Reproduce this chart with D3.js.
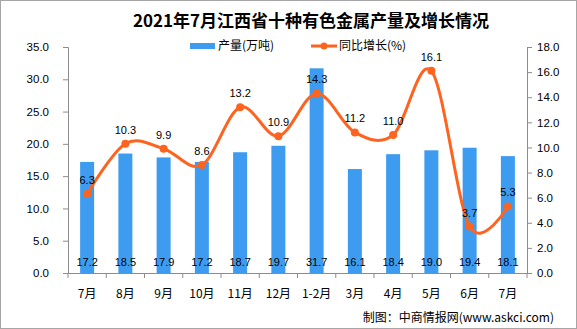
<!DOCTYPE html>
<html>
<head>
<meta charset="utf-8">
<script src="https://cdn.jsdelivr.net/npm/d3@7"></script>
<style>
  body { margin: 0; background: #fff; }
  svg { display: block; }
  text { font-family: "Liberation Sans", "Noto Sans CJK SC", sans-serif; }
  .cjk { font-family: "Noto Sans CJK SC", sans-serif; }
</style>
</head>
<body>
<svg id="chart" width="577" height="329"></svg>
<script>
// data
var months = ["7月", "8月", "9月", "10月", "11月", "12月", "1-2月", "3月", "4月", "5月", "6月", "7月"];
var output = [17.2, 18.5, 17.9, 17.2, 18.7, 19.7, 31.7, 16.1, 18.4, 19.0, 19.4, 18.1];
var growth = [6.3, 10.3, 9.9, 8.6, 13.2, 10.9, 14.3, 11.2, 11.0, 16.1, 3.7, 5.3];
var leftTicks = [0, 5, 10, 15, 20, 25, 30, 35];
var rightTicks = [0, 2, 4, 6, 8, 10, 12, 14, 16, 18];

var svg = d3.select("#chart");
var barColor = "#3d9cf0";
var lineColor = "#fc6420";

// plot box (window.top is reserved, so no plain "top")
var plotLeft = 68, plotRight = 527, plotTop = 47, plotBottom = 273;

// outer frame
svg.append("rect")
    .attr("x", 0.5).attr("y", 0.5)
    .attr("width", 576).attr("height", 328)
    .style("fill", "none")
    .style("stroke", "#a6a6a6");

var x = d3.scaleBand().domain(d3.range(months.length)).range([plotLeft, plotRight]).paddingInner(0).paddingOuter(0);
var yL = d3.scaleLinear().domain([0, 35]).range([plotBottom, plotTop]);
var yR = d3.scaleLinear().domain([0, 18]).range([plotBottom, plotTop]);
var barW = 14;

// bars
svg.append("g").selectAll("rect")
    .data(output)
    .enter().append("rect")
    .attr("x", function(d, i){ return x(i) + x.bandwidth()/2 - barW/2; })
    .attr("y", function(d){ return yL(d); })
    .attr("width", barW)
    .attr("height", function(d){ return plotBottom - yL(d); })
    .style("fill", barColor);

// bar value labels near the base
svg.append("g").selectAll("text")
    .data(output)
    .enter().append("text")
    .attr("x", function(d, i){ return x(i) + x.bandwidth()/2; })
    .attr("y", plotBottom - 7)
    .attr("text-anchor", "middle")
    .style("font-size", "11px")
    .style("fill", "#000")
    .text(function(d){ return d.toFixed(1); });

// axes
var axisL = d3.axisLeft(yL).tickValues(leftTicks).tickSize(5).tickPadding(14)
    .tickFormat(function(d){ return d.toFixed(1); });
var axisR = d3.axisRight(yR).tickValues(rightTicks).tickSize(5).tickPadding(5)
    .tickFormat(function(d){ return d.toFixed(1); });
var axisB = d3.axisBottom(x).tickSize(0).tickPadding(16)
    .tickFormat(function(i){ return months[i]; });

function styleAxis(g){
    g.select(".domain").style("stroke", "#8c8c8c");
    g.selectAll(".tick line").style("stroke", "#8c8c8c");
    g.selectAll(".tick text").style("font-size", "11.5px").style("fill", "#000");
}

svg.append("g").attr("transform", "translate(" + plotLeft + ",0)").call(axisL).call(styleAxis);
svg.append("g").attr("transform", "translate(" + plotRight + ",0)").call(axisR).call(styleAxis);
var gB = svg.append("g").attr("transform", "translate(0," + plotBottom + ")").call(axisB).call(styleAxis);
gB.select(".domain").attr("d", "M" + plotLeft + ",0.5H" + plotRight);
gB.selectAll(".tick text").attr("class", "cjk").style("font-size", "12px");

// category boundary ticks below the axis
svg.append("g").selectAll("line")
    .data(d3.range(months.length + 1))
    .enter().append("line")
    .attr("x1", function(i){ return plotLeft + i * x.bandwidth(); })
    .attr("x2", function(i){ return plotLeft + i * x.bandwidth(); })
    .attr("y1", plotBottom)
    .attr("y2", plotBottom + 5)
    .style("stroke", "#8c8c8c");

// growth line
var line = d3.line()
    .x(function(d, i){ return x(i) + x.bandwidth()/2; })
    .y(function(d){ return yR(d); })
    .curve(d3.curveCardinal.tension(0));

svg.append("path")
    .datum(growth)
    .attr("d", line)
    .style("fill", "none")
    .style("stroke", lineColor)
    .style("stroke-width", 3);

svg.append("g").selectAll("circle")
    .data(growth)
    .enter().append("circle")
    .attr("cx", function(d, i){ return x(i) + x.bandwidth()/2; })
    .attr("cy", function(d){ return yR(d); })
    .attr("r", 4)
    .style("fill", lineColor);

svg.append("g").selectAll("text")
    .data(growth)
    .enter().append("text")
    .attr("x", function(d, i){ return x(i) + x.bandwidth()/2; })
    .attr("y", function(d){ return yR(d) - 10; })
    .attr("text-anchor", "middle")
    .style("font-size", "11px")
    .style("fill", "#000")
    .text(function(d){ return d.toFixed(1); });

// title
svg.append("text")
    .attr("class", "cjk")
    .attr("x", 311).attr("y", 27)
    .attr("text-anchor", "middle")
    .style("font-size", "17px")
    .style("font-weight", "bold")
    .style("fill", "#000")
    .text("2021年7月江西省十种有色金属产量及增长情况");

// legend
var legend = svg.append("g");
legend.append("rect")
    .attr("x", 190).attr("y", 43).attr("width", 25).attr("height", 6)
    .style("fill", barColor);
legend.append("text")
    .attr("class", "cjk")
    .attr("x", 218).attr("y", 50)
    .style("font-size", "12px")
    .text("产量(万吨)");
legend.append("line")
    .attr("x1", 311).attr("x2", 337).attr("y1", 46).attr("y2", 46)
    .style("stroke", lineColor).style("stroke-width", 3);
legend.append("circle")
    .attr("cx", 324).attr("cy", 46).attr("r", 3.5)
    .style("fill", lineColor);
legend.append("text")
    .attr("class", "cjk")
    .attr("x", 339).attr("y", 50)
    .style("font-size", "12px")
    .text("同比增长(%)");

// source note
svg.append("text")
    .attr("class", "cjk")
    .attr("x", 554).attr("y", 322)
    .attr("text-anchor", "end")
    .style("font-size", "12px")
    .style("fill", "#000")
    .text("制图：中商情报网(www.askci.com)");
</script>
</body>
</html>
